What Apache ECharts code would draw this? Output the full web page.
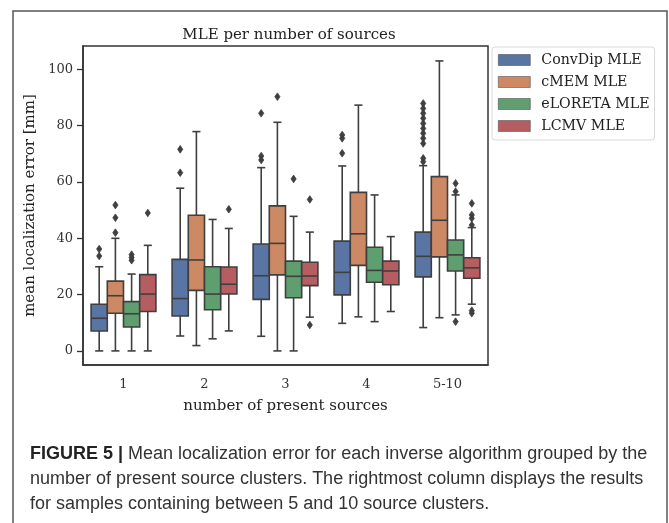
<!DOCTYPE html>
<html>
<head>
<meta charset="utf-8">
<script src="https://cdn.jsdelivr.net/npm/echarts@6/dist/echarts.min.js"></script>
<style>html,body{margin:0;padding:0;background:#fff;}#c{width:669px;height:523px;}</style>
</head>
<body>
<div id="c"></div>
<script>
// ---- data ----
const categories = ['1', '2', '3', '4', '5-10'];
const seriesNames = ['ConvDip MLE', 'cMEM MLE', 'eLORETA MLE', 'LCMV MLE'];
const yTickValues = [0, 20, 40, 60, 80, 100];
// [lower whisker, Q1, median, Q3, upper whisker] per category
const convdipBoxes = [[0, 7.1, 11.6, 16.6, 29.9], [5.3, 12.4, 18.6, 32.5, 57.8], [5.2, 18.3, 26.7, 38.0, 65.1], [9.8, 19.9, 27.9, 39.0, 65.7], [8.3, 26.3, 33.6, 42.2, 65.8]];
const cmemBoxes = [[0, 13.4, 19.6, 24.8, 40.0], [1.9, 21.5, 32.3, 48.2, 77.9], [0, 27.0, 38.2, 51.5, 81.2], [12.1, 30.4, 41.6, 56.3, 87.3], [11.8, 33.4, 46.4, 61.9, 103]];
const eloretaBoxes = [[0, 8.5, 13.2, 17.5, 27.3], [4.3, 14.6, 20.2, 29.9, 46.7], [0, 18.9, 26.5, 31.9, 47.8], [10.4, 24.4, 28.6, 36.8, 55.4], [12.8, 28.4, 34.1, 39.4, 55.4]];
const lcmvBoxes = [[0, 14.0, 20.2, 27.1, 37.5], [7.1, 20.2, 23.7, 29.8, 43.5], [12.0, 23.2, 26.6, 31.5, 42.2], [14.0, 23.5, 28.4, 31.9, 40.6], [16.6, 25.8, 29.5, 33.1, 43.8]];
// outliers per category
const convdipOutliers = [[33.7, 36.2], [63.3, 71.6], [67.8, 69.2, 84.4], [70.2, 75.5, 76.7], [67.2, 68.4, 73.7, 75.5, 77.3, 79.0, 80.8, 82.6, 84.4, 86.1, 87.9]];
const cmemOutliers = [[42, 47.3, 51.8], [], [90.3], [], []];
const eloretaOutliers = [[32.2, 33.2, 34.2], [], [61.1], [], [56.6, 59.5, 10.4]];
const lcmvOutliers = [[49], [50.3], [53.8, 9.2], [], [44.7, 47.1, 48.3, 52.4, 14.3, 13.4]];

const boxesList = [convdipBoxes, cmemBoxes, eloretaBoxes, lcmvBoxes];
const outliersList = [convdipOutliers, cmemOutliers, eloretaOutliers, lcmvOutliers];
const colors = ['#5875a4', '#cc8963', '#5f9e6e', '#b55d60'];
const lineColor = '#3f3f3f';
const serif = '"DejaVu Serif", Georgia, serif';
const sans = '"Liberation Sans", Arial, sans-serif';

const chart = echarts.init(document.getElementById('c'), null, {renderer: 'canvas'});

const series = [];
boxesList.forEach((boxes, si) => {
  series.push({
    name: seriesNames[si],
    type: 'custom',
    itemStyle: {color: colors[si]},
    encode: {x: 0, y: [1, 2, 3, 4, 5]},
    data: boxes.map((b, ci) => [ci].concat(b)),
    renderItem: function (params, api) {
      const cat = api.value(0);
      const band = api.size([1, 0])[0];
      const bw = band * 0.2;
      const cx = api.coord([cat, 0])[0] + (si - 1.5) * bw;
      const y = v => api.coord([cat, v])[1];
      const lo = y(api.value(1)), q1 = y(api.value(2)), md = y(api.value(3)), q3 = y(api.value(4)), hi = y(api.value(5));
      const half = bw / 2;
      const cap = bw / 4;
      const ls = {stroke: lineColor, lineWidth: 1.6};
      return {
        type: 'group',
        children: [
          {type: 'line', shape: {x1: cx, y1: q3, x2: cx, y2: hi}, style: ls},
          {type: 'line', shape: {x1: cx, y1: q1, x2: cx, y2: lo}, style: ls},
          {type: 'line', shape: {x1: cx - cap, y1: hi, x2: cx + cap, y2: hi}, style: ls},
          {type: 'line', shape: {x1: cx - cap, y1: lo, x2: cx + cap, y2: lo}, style: ls},
          {type: 'rect', shape: {x: cx - half, y: q3, width: bw, height: q1 - q3}, style: {fill: colors[si], stroke: lineColor, lineWidth: 1.6}},
          {type: 'line', shape: {x1: cx - half, y1: md, x2: cx + half, y2: md}, style: ls}
        ]
      };
    },
    z: 2
  });
  const outs = [];
  outliersList[si].forEach((arr, ci) => arr.forEach(v => outs.push([ci, v])));
  series.push({
    name: seriesNames[si],
    type: 'custom',
    itemStyle: {color: colors[si]},
    encode: {x: 0, y: 1},
    data: outs,
    renderItem: function (params, api) {
      const cat = api.value(0);
      const band = api.size([1, 0])[0];
      const bw = band * 0.2;
      const p = api.coord([cat, api.value(1)]);
      const cx = p[0] + (si - 1.5) * bw;
      const cy = p[1];
      const w = 2.6, h = 3.8;
      return {
        type: 'polygon',
        shape: {points: [[cx, cy - h], [cx + w, cy], [cx, cy + h], [cx - w, cy]]},
        style: {fill: lineColor, stroke: lineColor, lineWidth: 0.8}
      };
    },
    z: 3
  });
});

const option = {
  animation: false,
  backgroundColor: '#fff',
  title: {
    text: 'MLE per number of sources',
    left: 284, top: 23, textAlign: 'center',
    textStyle: {fontFamily: serif, fontSize: 15, fontWeight: 'normal', color: '#222'}
  },
  legend: {
    data: seriesNames,
    orient: 'vertical',
    left: 492, top: 47,
    icon: 'rect',
    itemWidth: 32, itemHeight: 11,
    itemGap: 8,
    padding: [6, 5, 7, 6],
    borderColor: '#d8d8d8', borderWidth: 1, borderRadius: 3,
    textStyle: {fontFamily: serif, fontSize: 14.2, color: '#222', padding: [0, 0, 0, 6]},
    itemStyle: {borderColor: '#555', borderWidth: 0.6}
  },
  grid: {
    left: 83, right: 181, top: 46, bottom: 158,
    show: true, borderColor: '#333', borderWidth: 1.5, backgroundColor: 'transparent'
  },
  xAxis: {
    type: 'category',
    data: categories,
    name: 'number of present sources',
    nameLocation: 'middle',
    nameGap: 34,
    nameTextStyle: {fontFamily: serif, fontSize: 15, color: '#222'},
    axisLine: {onZero: false, lineStyle: {color: '#333', width: 1.5}},
    axisTick: {alignWithLabel: true, length: 6, lineStyle: {color: '#333', width: 1.3}},
    axisLabel: {fontFamily: serif, fontSize: 13, color: '#333', margin: 13},
    splitLine: {show: false}
  },
  yAxis: {
    type: 'value',
    min: -5, max: 108.3,
    name: 'mean localization error [mm]',
    nameLocation: 'middle',
    nameGap: 42,
    nameRotate: 90,
    nameTextStyle: {fontFamily: serif, fontSize: 15, color: '#222'},
    axisLine: {show: true, onZero: false, lineStyle: {color: '#333', width: 1.5}},
    axisTick: {show: true, length: 6, customValues: yTickValues, lineStyle: {color: '#333', width: 1.3}},
    axisLabel: {fontFamily: serif, fontSize: 13, color: '#333', margin: 10, customValues: yTickValues},
    splitLine: {show: false}
  },
  series: series,
  graphic: [
    {type: 'rect', shape: {x: 13, y: 11, width: 654, height: 530}, style: {fill: 'none', stroke: '#555', lineWidth: 1.5}, silent: true, z: -1},
    {
      type: 'text', left: 30, top: 445,
      style: {
        rich: {
          b: {fontFamily: sans, fontWeight: 'bold', fontSize: 18, fill: '#222'},
          n: {fontFamily: sans, fontSize: 18, fill: '#333'}
        },
        text: '{b|FIGURE 5 | }{n|Mean localization error for each inverse algorithm grouped by the}'
      }
    },
    {type: 'text', left: 30, top: 470, style: {text: 'number of present source clusters. The rightmost column displays the results', fontFamily: sans, fontSize: 18, fill: '#333'}},
    {type: 'text', left: 30, top: 495, style: {text: 'for samples containing between 5 and 10 source clusters.', fontFamily: sans, fontSize: 18, fill: '#333'}}
  ]
};
chart.setOption(option);
</script>
</body>
</html>
